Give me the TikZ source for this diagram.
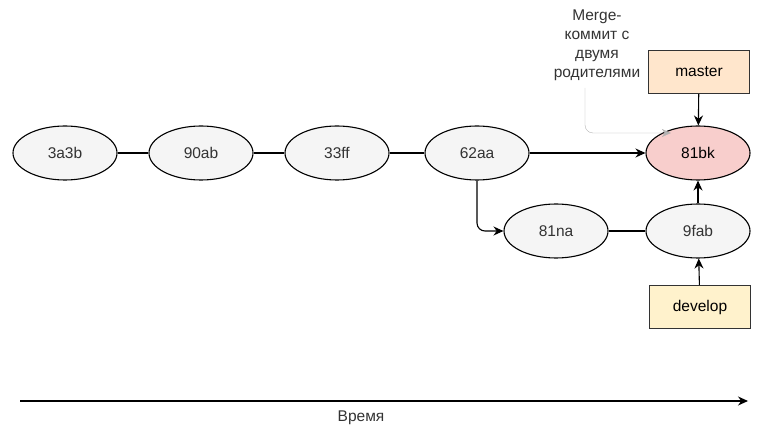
\documentclass[tikz,border=0pt]{standalone}
\usepackage{fontspec}
\setmainfont{Liberation Sans}
\usepackage{xcolor}
\usetikzlibrary{arrows.meta,positioning,shapes.geometric}
\definecolor{ink}{HTML}{333333}
\definecolor{shell}{HTML}{F5F5F5}
\definecolor{rose}{HTML}{F8CECC}
\definecolor{peach}{HTML}{FFE6CC}
\definecolor{cream}{HTML}{FFF2CC}
\definecolor{wire}{HTML}{B3B3B3}

\begin{document}
\begin{tikzpicture}[
  x=1pt,y=-1pt,
  commit/.style={ellipse,draw=black,line width=1.1pt,fill=shell,minimum width=104pt,minimum height=54pt,inner sep=0pt,font=\fontsize{15.5}{18}\selectfont,text=ink},
  branch/.style={draw=ink,line width=1.1pt,minimum width=101pt,minimum height=43pt,inner sep=0pt,font=\fontsize{15.5}{18}\selectfont},
  arrow/.style={-{Stealth[length=10pt,width=9pt]},line width=1.1pt},
  link/.style={line width=1.1pt}
]
\useasboundingbox (0,0) rectangle (776,443);
\node[commit] (c1) at (65,153) {3a3b};
\node[commit] (c2) at (201,153) {90ab};
\node[commit] (c3) at (337,153) {33ff};
\node[commit] (c4) at (477,153) {62aa};
\node[commit,fill=rose,text=black] (merge) at (698,153) {81bk};
\node[commit] (f1) at (556,231) {81na};
\node[commit] (f2) at (698,231) {9fab};
\node[branch,fill=peach] (master) at (699,72) {master};
\node[branch,fill=cream] (develop) at (700,307) {develop};
\node[align=center,font=\fontsize{15.5}{19}\selectfont,text=ink] (note) at (597,45) {Merge-\\коммит с\\двумя\\родителями};
\coordinate (t0) at (20,401);
\coordinate (t1) at (748,401);
\node[font=\fontsize{15.5}{18}\selectfont,text=ink] (time) at (361,418) {Время};
\draw[link] (c1) -- (c2);
\draw[link] (c2) -- (c3);
\draw[link] (c3) -- (c4);
\draw[arrow] (c4) -- (merge);
\draw[arrow,rounded corners=8pt] (c4.south) |- (f1.west);
\draw[link] (f1) -- (f2);
\draw[arrow] (f2) -- (merge);
\draw[arrow] (master) -- (merge);
\draw[arrow] (develop) -- (f2);
\draw[-{Stealth[length=9pt,width=8pt]},wire,rounded corners=8pt] (585,88) |- (merge.north west |- 0,133) -- ++(10,0);
\draw[arrow] (t0) -- (t1);
\end{tikzpicture}
\end{document}
